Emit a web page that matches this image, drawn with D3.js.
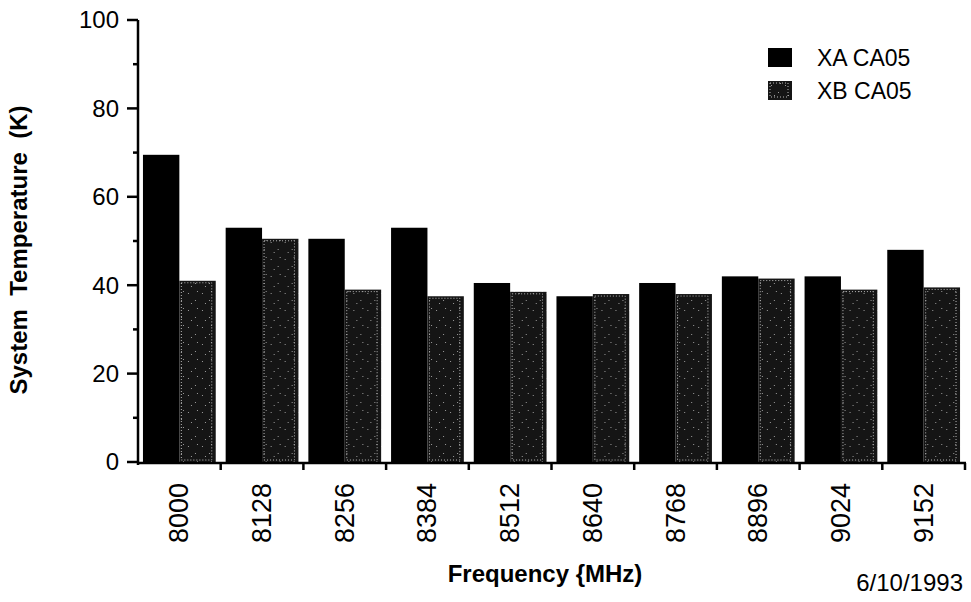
<!DOCTYPE html>
<html>
<head>
<meta charset="utf-8">
<script src="https://cdn.jsdelivr.net/npm/d3@7"></script>
<style>
  html, body { margin: 0; padding: 0; background: #fff; }
  svg { display: block; }
  text { font-family: "Liberation Sans", Arial, Helvetica, sans-serif; fill: #000; }
</style>
</head>
<body>
<script>
// frequency bins (MHz) and system temperatures (K)
var categories = ["8000", "8128", "8256", "8384", "8512", "8640", "8768", "8896", "9024", "9152"];
var seriesNames = ["XA CA05", "XB CA05"];
var xaValues = [69.5, 53, 50.5, 53, 40.5, 37.5, 40.5, 42, 42, 48];
var xbValues = [41, 50.5, 39, 37.5, 38.5, 38, 38, 41.5, 39, 39.5];
var yTicks = [0, 20, 40, 60, 80, 100];
var yMinorTicks = [10, 30, 50, 70, 90];

var W = 971, H = 602;
var plotLeft = 138, plotRight = 965, plotTop = 20, plotBottom = 463;

var svg = d3.select("body").append("svg")
    .attr("width", W)
    .attr("height", H);

// stippled fill for the second series
var defs = svg.append("defs");
var pat = defs.append("pattern")
    .attr("id", "stipple")
    .attr("patternUnits", "userSpaceOnUse")
    .attr("width", 14).attr("height", 17);
pat.append("rect").attr("width", 14).attr("height", 17).attr("fill", "#151515");
[[3, 4], [10, 11], [6, 14], [12, 2]].forEach(function(p) {
  pat.append("rect").attr("x", p[0]).attr("y", p[1])
      .attr("width", 1).attr("height", 1).attr("fill", "#9a9a9a");
});

var x0 = d3.scaleBand()
    .domain(categories)
    .range([plotLeft, plotRight])
    .paddingInner(0.12)
    .paddingOuter(0.06);

var x1 = d3.scaleBand()
    .domain(seriesNames)
    .range([0, x0.bandwidth()]);

var y = d3.scaleLinear()
    .domain([0, 100])
    .range([plotBottom - 1, plotTop]);

var rows = categories.map(function(c, i) {
  return { cat: c, vals: [
    { s: seriesNames[0], v: xaValues[i] },
    { s: seriesNames[1], v: xbValues[i] }
  ]};
});

// bars
var groups = svg.append("g").selectAll("g")
    .data(rows)
    .enter().append("g")
      .attr("transform", function(d) { return "translate(" + x0(d.cat) + ",0)"; });

groups.selectAll("rect.bar")
    .data(function(d) { return d.vals; })
    .enter().append("rect")
      .attr("class", "bar")
      .attr("x", function(d) { return x1(d.s); })
      .attr("y", function(d) { return y(d.v); })
      .attr("width", x1.bandwidth())
      .attr("height", function(d) { return y(0) - y(d.v); })
      .attr("fill", function(d) { return d.s === seriesNames[0] ? "#000" : "url(#stipple)"; });

// dotted inner edge on the XB bars
groups.selectAll("rect.edge")
    .data(function(d) { return d.vals.filter(function(e) { return e.s === seriesNames[1]; }); })
    .enter().append("rect")
      .attr("class", "edge")
      .attr("x", function(d) { return x1(d.s) + 2; })
      .attr("y", function(d) { return y(d.v) + 2; })
      .attr("width", x1.bandwidth() - 6)
      .attr("height", function(d) { return y(0) - y(d.v) - 4; })
      .attr("fill", "none")
      .attr("stroke", "#b8b8b8")
      .attr("stroke-width", 1)
      .attr("stroke-dasharray", "1,2");

// y axis
var yAxis = svg.append("g");
yAxis.append("line")
    .attr("x1", plotLeft).attr("x2", plotLeft)
    .attr("y1", y(100)).attr("y2", plotBottom + 2)
    .attr("stroke", "#000").attr("stroke-width", 2.5);
yAxis.selectAll("line.major")
    .data(yTicks)
    .enter().append("line")
      .attr("x1", plotLeft - 11).attr("x2", plotLeft)
      .attr("y1", function(d) { return y(d); })
      .attr("y2", function(d) { return y(d); })
      .attr("stroke", "#000").attr("stroke-width", 2.5);
yAxis.selectAll("line.minor")
    .data(yMinorTicks)
    .enter().append("line")
      .attr("x1", plotLeft - 5).attr("x2", plotLeft)
      .attr("y1", function(d) { return y(d); })
      .attr("y2", function(d) { return y(d); })
      .attr("stroke", "#000").attr("stroke-width", 2.5);
yAxis.selectAll("text")
    .data(yTicks)
    .enter().append("text")
      .attr("x", plotLeft - 19)
      .attr("y", function(d) { return y(d); })
      .attr("dy", "0.35em")
      .attr("text-anchor", "end")
      .attr("font-size", 24)
      .text(function(d) { return d; });

// x axis
var xAxis = svg.append("g");
xAxis.append("line")
    .attr("x1", plotLeft - 1).attr("x2", plotRight + 1)
    .attr("y1", plotBottom).attr("y2", plotBottom)
    .attr("stroke", "#000").attr("stroke-width", 2.5);
xAxis.selectAll("line.tick")
    .data(categories)
    .enter().append("line")
      .attr("x1", function(d) { return x0(d) - x0.step() * x0.paddingOuter() + x0.step(); })
      .attr("x2", function(d) { return x0(d) - x0.step() * x0.paddingOuter() + x0.step(); })
      .attr("y1", plotBottom).attr("y2", plotBottom + 7)
      .attr("stroke", "#000").attr("stroke-width", 2.5);
xAxis.selectAll("text")
    .data(categories)
    .enter().append("text")
      .attr("transform", function(d) {
        return "translate(" + (x0(d) + x0.bandwidth() / 2 + 9) + "," + (plotBottom + 20) + ") rotate(-90)";
      })
      .attr("text-anchor", "end")
      .attr("font-size", 27)
      .text(function(d) { return d; });

// axis titles
svg.append("text")
    .attr("transform", "translate(27,250) rotate(-90)")
    .attr("text-anchor", "middle")
    .attr("font-size", 24)
    .attr("font-weight", "bold")
    .style("white-space", "pre")
    .text("System  Temperature  (K)");

svg.append("text")
    .attr("x", 545)
    .attr("y", 582)
    .attr("text-anchor", "middle")
    .attr("font-size", 24)
    .attr("font-weight", "bold")
    .text("Frequency {MHz)");

svg.append("text")
    .attr("x", 963)
    .attr("y", 591)
    .attr("text-anchor", "end")
    .attr("font-size", 24)
    .text("6/10/1993");

// legend
var legend = svg.append("g").selectAll("g")
    .data(seriesNames)
    .enter().append("g")
      .attr("transform", function(d, i) { return "translate(768," + (48 + i * 33) + ")"; });
legend.append("rect")
    .attr("width", 24).attr("height", 19)
    .attr("fill", function(d, i) { return i === 0 ? "#000" : "url(#stipple)"; });
legend.filter(function(d, i) { return i === 1; }).append("rect")
    .attr("x", 2).attr("y", 2).attr("width", 18).attr("height", 14)
    .attr("fill", "none").attr("stroke", "#b8b8b8").attr("stroke-dasharray", "1,2");
legend.append("text")
    .attr("x", 49)
    .attr("y", 18)
    .attr("font-size", 23)
    .text(function(d) { return d; });
</script>
</body>
</html>
